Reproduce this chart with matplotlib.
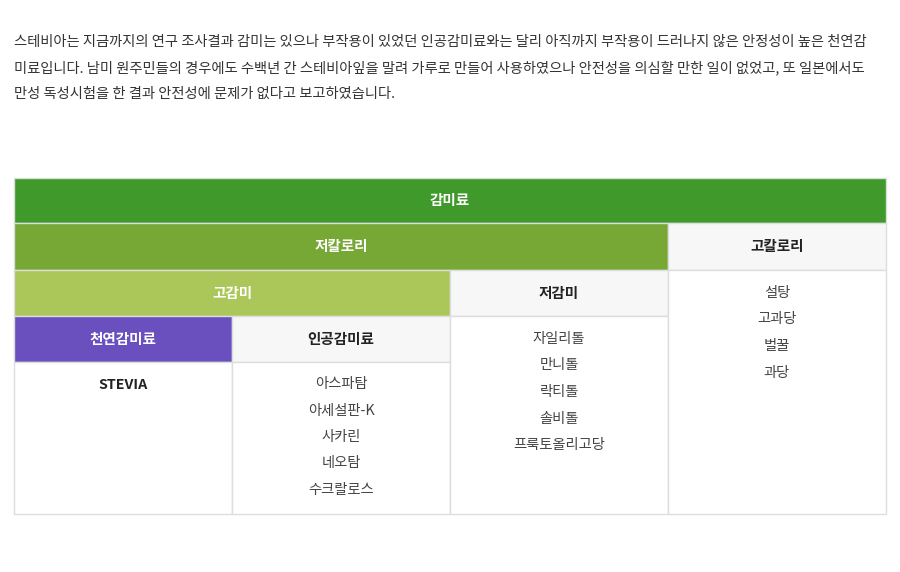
import matplotlib
matplotlib.use("Agg")
import matplotlib.pyplot as plt
from matplotlib.patches import Rectangle

paragraph = [
    "스테비아는 지금까지의 연구 조사결과 감미는 있으나 부작용이 있었던 인공감미료와는 달리 아직까지 부작용이 드러나지 않은 안정성이 높은 천연감",
    "미료입니다. 남미 원주민들의 경우에도 수백년 간 스테비아잎을 말려 가루로 만들어 사용하였으나 안전성을 의심할 만한 일이 없었고, 또 일본에서도",
    "만성 독성시험을 한 결과 안전성에 문제가 없다고 보고하였습니다.",
]
title = "감미료"
low_cal = "저칼로리"
high_cal = "고칼로리"
high_sweet = "고감미"
low_sweet = "저감미"
natural = "천연감미료"
artificial = "인공감미료"
natural_items = ["STEVIA"]
artificial_items = ["아스파탐", "아세설판-K", "사카린", "네오탐", "수크랄로스"]
low_sweet_items = ["자일리톨", "만니톨", "락티톨", "솔비톨", "프룩토올리고당"]
high_cal_items = ["설탕", "고과당", "벌꿀", "과당"]

plt.rcParams["font.family"] = "Noto Sans CJK KR"
fig = plt.figure(figsize=(9, 5.72), dpi=100)
ax = fig.add_axes([0, 0, 1, 1])
ax.set_xlim(0, 900); ax.set_ylim(572, 0); ax.axis("off")

for i, line in enumerate(paragraph):
    ax.text(14, 42 + 26 * i, line, fontsize=10.3, color="#333333", va="center", ha="left")

border = "#dddddd"
def cell(x0, y0, x1, y1, fc, text=None, tc="white", bold=True):
    ax.add_patch(Rectangle((x0, y0), x1 - x0, y1 - y0, facecolor=fc, edgecolor=border, lw=1))
    if text:
        ax.text((x0 + x1) / 2, (y0 + y1) / 2, text, ha="center", va="center", fontsize=10.5,
                color=tc, fontweight="bold" if bold else "normal")

cell(14, 178, 886, 223, "#3f9a2b", title)
cell(14, 223, 668, 270, "#77a836", low_cal)
cell(668, 223, 886, 270, "#f7f7f7", high_cal, "#222222")
cell(14, 270, 450, 316, "#abc759", high_sweet)
cell(450, 270, 668, 316, "#f7f7f7", low_sweet, "#222222")
cell(14, 316, 232, 362, "#6a50bf", natural)
cell(232, 316, 450, 362, "#f7f7f7", artificial, "#222222")
cell(14, 362, 232, 514, "white")
cell(232, 362, 450, 514, "white")
cell(450, 316, 668, 514, "white")
cell(668, 270, 886, 514, "white")

def items(xc, y0, lst, bold=False):
    for i, t in enumerate(lst):
        ax.text(xc, y0 + 26.5 * i, t, ha="center", va="center", fontsize=10.3,
                color="#222222" if bold else "#444444", fontweight="bold" if bold else "normal")

items(123, 385, natural_items, bold=True)
items(341, 384, artificial_items)
items(559, 339, low_sweet_items)
items(777, 293, high_cal_items)

fig.savefig("out.png", dpi=100)
